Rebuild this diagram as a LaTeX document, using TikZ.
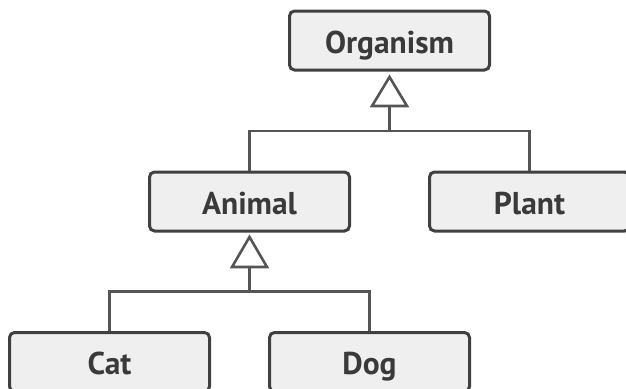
\documentclass[tikz,border=0pt]{standalone}
\usepackage{fontspec}
\setmainfont{PT Sans}
\begin{document}
\begin{tikzpicture}[x=1pt,y=-1pt,
  cls/.style={draw=boxedge, fill=boxfill, line width=3pt, rounded corners=5pt,
    minimum width=200pt, minimum height=59pt, inner sep=0pt,
    text height=25pt, text depth=0pt,
    font=\fontsize{31.5}{34}\selectfont\bfseries, text=textcol},
  conn/.style={draw=linecol, line width=2.6pt},
  tri/.style={draw=linecol, fill=white, line width=2.6pt, line join=miter}]
\definecolor{boxedge}{HTML}{404040}
\definecolor{boxfill}{HTML}{EFEFEF}
\definecolor{linecol}{HTML}{555555}
\definecolor{textcol}{HTML}{3A3A3A}
\useasboundingbox (0,0) rectangle (626,388);
\node[cls] (org) at (389.5,40.5) {Organism};
\node[cls] (animal) at (249.5,201.5) {Animal};
\node[cls] (plant) at (529.5,201.5) {Plant};
\node[cls] (cat) at (109.5,362) {Cat};
\node[cls] (dog) at (369.5,362) {Dog};
% Organism hierarchy
\coordinate (t1a) at (389.5,77);
\coordinate (t1b) at (372,106);
\coordinate (t1c) at (407,106);
\coordinate (t1m) at (389.5,106);
\coordinate (j1) at (389.5,131);
\draw[conn] (t1m) -- (j1);
\draw[conn] (animal.north) |- (j1) -| (plant.north);
\draw[tri] (t1a) -- (t1b) -- (t1c) -- cycle;
% Animal hierarchy
\coordinate (t2a) at (249.5,237);
\coordinate (t2b) at (232,267);
\coordinate (t2c) at (267,267);
\coordinate (t2m) at (249.5,267);
\coordinate (j2) at (249.5,291.5);
\draw[conn] (t2m) -- (j2);
\draw[conn] (cat.north) |- (j2) -| (dog.north);
\draw[tri] (t2a) -- (t2b) -- (t2c) -- cycle;
\end{tikzpicture}
\end{document}
